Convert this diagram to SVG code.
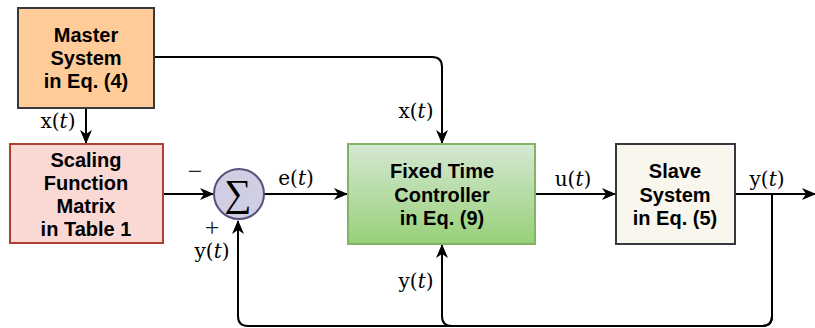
<svg xmlns="http://www.w3.org/2000/svg" width="815" height="328" viewBox="0 0 815 328">
  <style>
    .box { stroke-width: 2; }
    .lbl { font-family: "Liberation Sans", Arial, sans-serif; font-weight: bold; font-size: 20px; text-anchor: middle; fill: #000; }
    .math { font-family: "DejaVu Serif", "Liberation Serif", serif; font-size: 20px; text-anchor: middle; fill: #000; }
    .sign { font-family: "Liberation Serif", serif; font-size: 26px; text-anchor: middle; fill: #222; }
    .wire { fill: none; stroke: #000; stroke-width: 2; }
  </style>
  <defs>
    <marker id="arrow" viewBox="0 0 14 12" refX="13" refY="6" markerWidth="14" markerHeight="12" markerUnits="userSpaceOnUse" orient="auto">
      <path d="M0,0 L14,6 L0,12 L4,6 Z" fill="#000"/>
    </marker>
    <linearGradient id="green" x1="0" y1="0" x2="0" y2="1">
      <stop offset="0" stop-color="#d5e8d4"/>
      <stop offset="1" stop-color="#97d077"/>
    </linearGradient>
  </defs>

  <!-- connectors -->
  <g id="connectors">
    <path class="wire" d="M86,108 V143" marker-end="url(#arrow)"/>
    <path class="wire" d="M154,57 H432 Q442,57 442,67 V143" marker-end="url(#arrow)"/>
    <path class="wire" d="M163,194 H213" marker-end="url(#arrow)"/>
    <path class="wire" d="M264,194 H347" marker-end="url(#arrow)"/>
    <path class="wire" d="M535,194 H615" marker-end="url(#arrow)"/>
    <path class="wire" d="M735,194 H815" marker-end="url(#arrow)"/>
    <path class="wire" d="M772,194 V316 Q772,326 762,326 H248 Q238,326 238,316 V221" marker-end="url(#arrow)"/>
    <path class="wire" d="M772,194 V316 Q772,326 762,326 H452 Q442,326 442,316 V245" marker-end="url(#arrow)"/>
    <text class="math" x="58" y="128">x(<tspan font-style="italic">t</tspan>)</text>
    <text class="math" x="416" y="118">x(<tspan font-style="italic">t</tspan>)</text>
    <text class="math" x="296" y="185">e(<tspan font-style="italic">t</tspan>)</text>
    <text class="math" x="573" y="186">u(<tspan font-style="italic">t</tspan>)</text>
    <text class="math" x="767" y="186">y(<tspan font-style="italic">t</tspan>)</text>
    <text class="math" x="212" y="258">y(<tspan font-style="italic">t</tspan>)</text>
    <text class="math" x="416" y="288">y(<tspan font-style="italic">t</tspan>)</text>
    <text class="sign" x="195" y="180">−</text>
    <text class="sign" x="212" y="236">+</text>
  </g>

  <g id="master">
    <rect class="box" x="18" y="8" width="136" height="100" fill="#ffcc99" stroke="#36393d"/>
    <text class="lbl" x="86" y="42">Master</text>
    <text class="lbl" x="86" y="65">System</text>
    <text class="lbl" x="86" y="88">in Eq. (4)</text>
  </g>

  <g id="scaling">
    <rect class="box" x="10" y="144" width="153" height="99" fill="#fad9d5" stroke="#ae4132"/>
    <text class="lbl" x="86" y="167">Scaling</text>
    <text class="lbl" x="86" y="190">Function</text>
    <text class="lbl" x="86" y="213">Matrix</text>
    <text class="lbl" x="86" y="236">in Table 1</text>
  </g>

  <g id="sum">
    <circle cx="239" cy="194" r="25" fill="#d0cee2" stroke="#56517e" stroke-width="2"/>
    <text x="238" y="206" font-family="'Liberation Serif', 'DejaVu Serif', serif" font-size="38" text-anchor="middle">∑</text>
  </g>

  <g id="controller">
    <rect class="box" x="348" y="144" width="187" height="100" fill="url(#green)" stroke="#82b366"/>
    <text class="lbl" x="442" y="178">Fixed Time</text>
    <text class="lbl" x="442" y="202">Controller</text>
    <text class="lbl" x="442" y="225">in Eq. (9)</text>
  </g>

  <g id="slave">
    <rect class="box" x="616" y="144" width="119" height="100" fill="#f9f7ed" stroke="#36393d"/>
    <text class="lbl" x="675" y="178">Slave</text>
    <text class="lbl" x="675" y="202">System</text>
    <text class="lbl" x="675" y="225">in Eq. (5)</text>
  </g>
</svg>
